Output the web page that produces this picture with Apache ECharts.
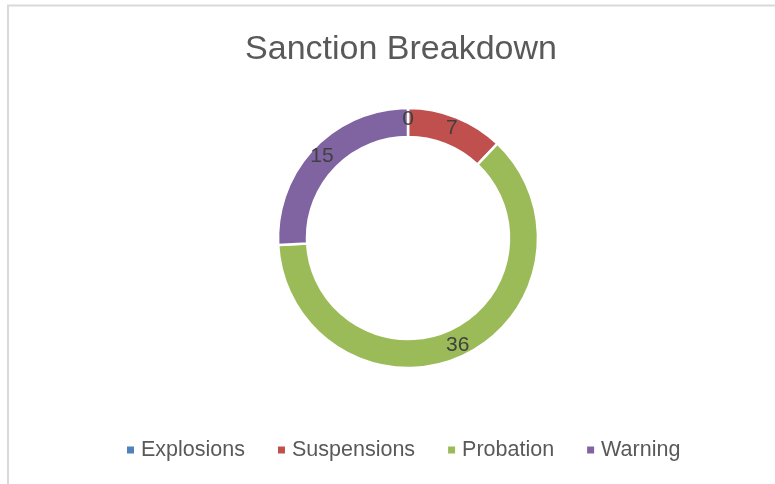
<!DOCTYPE html>
<html>
<head>
<meta charset="utf-8">
<script src="https://cdn.jsdelivr.net/npm/echarts@6/dist/echarts.min.js"></script>
<style>
  html, body { margin: 0; padding: 0; background: #fff; }
  #chart { width: 775px; height: 484px; }
</style>
</head>
<body>
<div id="chart"></div>
<script>
const categories = ["Explosions", "Suspensions", "Probation", "Warning"];
const sanctionCounts = [0, 7, 36, 15];
const sliceColors = ["#4F81BD", "#C0504D", "#9BBB59", "#8064A2"];

const chart = echarts.init(document.getElementById("chart"));

const option = {
    animation: false,
    backgroundColor: "#ffffff",
    title: {
        text: "Sanction Breakdown",
        left: 396,
        textAlign: "center",
        top: 28,
        textStyle: {
            color: "#595959",
            fontFamily: "Liberation Sans",
            fontWeight: "normal",
            fontSize: 34,
        },
    },
    legend: {
        data: categories,
        left: 120,
        top: 434,
        icon: "rect",
        itemWidth: 9,
        itemHeight: 9,
        itemGap: 31,
        selectedMode: false,
        textStyle: {
            color: "#595959",
            fontFamily: "Liberation Sans",
            fontSize: 21.5,
            padding: [0, 0, 0, 1],
        },
    },
    graphic: [
        {
            // chart area frame (top and left edges visible)
            type: "polyline",
            shape: { points: [[8, 484], [8, 5.5], [775, 5.5]] },
            style: { stroke: "#d9d9d9", lineWidth: 2, fill: null },
            silent: true,
        },
    ],
    series: [
        {
            type: "pie",
            center: [408, 238],
            radius: [101, 130],
            startAngle: 90,
            clockwise: true,
            avoidLabelOverlap: false,
            itemStyle: {
                borderColor: "#ffffff",
                borderWidth: 2.5,
            },
            label: {
                show: true,
                position: "inside",
                formatter: "{c}",
                color: "#404040",
                fontFamily: "Liberation Sans",
                fontSize: 21,
            },
            labelLine: { show: false },
            emphasis: { disabled: true },
            data: categories.map((name, i) => ({
                name: name,
                value: sanctionCounts[i],
                itemStyle: { color: sliceColors[i] },
            })),
        },
    ],
};

chart.setOption(option);
</script>
</body>
</html>
